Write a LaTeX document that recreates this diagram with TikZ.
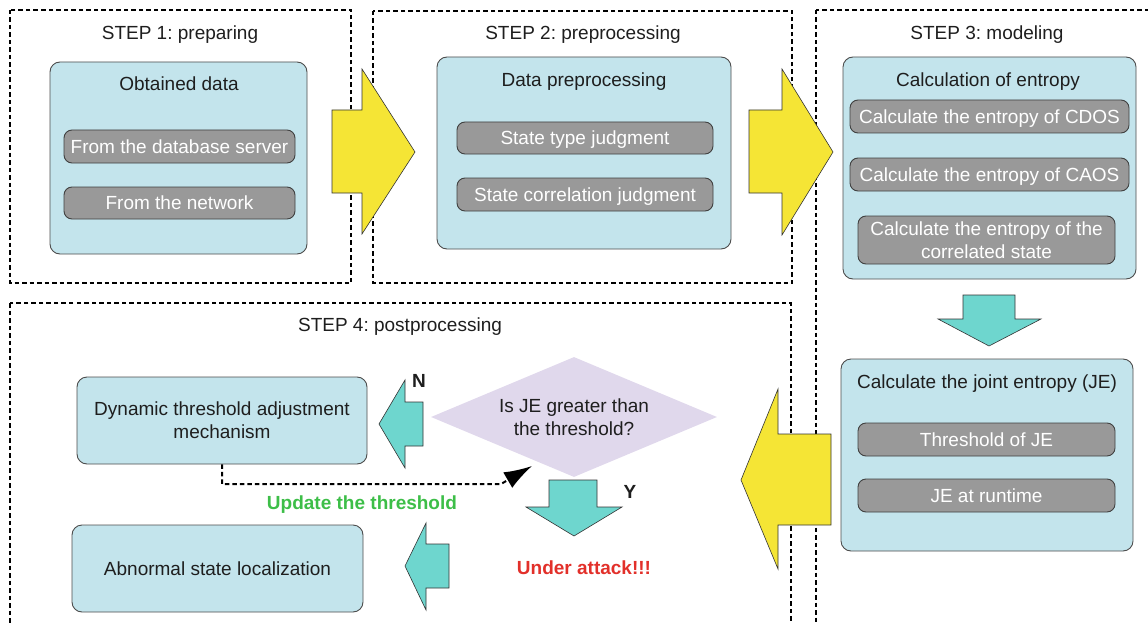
\documentclass[tikz,border=0pt]{standalone}
\usepackage{fontspec}
\setmainfont{Liberation Sans}
\usetikzlibrary{shapes.geometric,arrows.meta}
\definecolor{boxblue}{HTML}{C3E4EC}
\definecolor{boxgray}{HTML}{999999}
\definecolor{ayellow}{HTML}{F5E535}
\definecolor{acyan}{HTML}{6ED6CE}
\definecolor{dlav}{HTML}{E0D8EC}
\definecolor{ugreen}{HTML}{3DBE48}
\definecolor{ared}{HTML}{E2302A}
\definecolor{txt}{HTML}{1E1E1E}
\frenchspacing
\begin{document}
\begin{tikzpicture}[x=1pt,y=-1pt,
  font=\fontsize{19}{23}\selectfont,
  frame/.style={draw=black, line width=2pt, dash pattern=on 4.5pt off 3pt},
  bluebox/.style={draw=black!70, line width=0.9pt, fill=boxblue, rounded corners=10pt, inner sep=0pt},
  graybase/.style={draw=black!75, line width=0.9pt, fill=boxgray, rounded corners=8pt, inner sep=0pt,
    text=white, align=center},
  graybox/.style={graybase, text height=13.6pt, text depth=0pt},
  ttl/.style={text=txt, inner sep=0pt, align=center, text height=13.6pt, text depth=0pt},
  yarrow/.style={draw=black!80, line width=0.6pt, fill=ayellow},
  carrow/.style={draw=black!80, line width=0.6pt, fill=acyan},
  conn/.style={draw=black, line width=2pt, dash pattern=on 4.5pt off 3pt, -{Latex[length=28pt,width=18pt]}},
]
\useasboundingbox (0,0) rectangle (1148,623);
\clip (0,0) rectangle (1148,623);

% dashed step frames
\draw[frame] (10,10) rectangle (351,283);
\draw[frame] (373,11) rectangle (792,283);
\draw[frame] (816,10) rectangle (1165,645);
\draw[frame] (10,303) rectangle (791,645);

% step titles
\node[ttl] (s1) at (180,33) {STEP 1: preparing};
\node[ttl] (s2) at (583,33) {STEP 2: preprocessing};
\node[ttl] (s3) at (987,33) {STEP 3: modeling};
\node[ttl] (s4) at (400,325) {STEP 4: postprocessing};

% blue boxes
\node[bluebox, minimum width=257pt, minimum height=192pt] (obt) at (178.5,158) {};
\node[bluebox, minimum width=294pt, minimum height=192pt] (dpp) at (584,153) {};
\node[bluebox, minimum width=293pt, minimum height=222pt] (cen) at (989.5,168) {};
\node[bluebox, minimum width=292pt, minimum height=192pt] (jen) at (987,455) {};
\node[bluebox, minimum width=290pt, minimum height=87pt, text=txt, align=center] (dyn) at (222,420.5)
  {Dynamic threshold adjustment\\mechanism};
\node[bluebox, minimum width=291pt, minimum height=87pt, text=txt, align=center,
  text height=13.6pt, text depth=0pt] (abn) at (217.5,568.5)
  {Abnormal state localization};

% box titles
\node[ttl] (tobt) at (179,84) {Obtained data};
\node[ttl] (tdpp) at (584,80) {Data preprocessing};
\node[ttl] (tcen) at (988,80) {Calculation of entropy};
\node[ttl] (tjen) at (987,382) {Calculate the joint entropy (JE)};

% gray boxes
\node[graybox, minimum width=231pt, minimum height=33pt] (g1) at (179.5,146.5) {From the database server};
\node[graybox, minimum width=231pt, minimum height=32pt] (g2) at (179.5,203) {From the network};
\node[graybox, minimum width=256pt, minimum height=32pt] (g3) at (585,138) {State type judgment};
\node[graybox, minimum width=256pt, minimum height=33pt] (g4) at (585,194.5) {State correlation judgment};
\node[graybox, minimum width=279pt, minimum height=33pt] (g5) at (989.5,116.5) {Calculate the entropy of CDOS};
\node[graybox, minimum width=279pt, minimum height=33pt] (g6) at (989.5,174.5) {Calculate the entropy of CAOS};
\node[graybase, minimum width=257pt, minimum height=48pt] (g7) at (986.5,240)
  {Calculate the entropy of the\\correlated state};
\node[graybox, minimum width=257pt, minimum height=33pt] (g8) at (986.5,439.5) {Threshold of JE};
\node[graybox, minimum width=257pt, minimum height=33pt] (g9) at (986.5,495.5) {JE at runtime};

% decision
\node[diamond, aspect=2.383, fill=dlav, minimum width=286pt, minimum height=120pt, inner sep=0pt,
  align=center, text=txt] (dec) at (574,417) {Is JE greater than\\the threshold?};

% yellow block arrows
\draw[yarrow] (332,110) -- (362,110) -- (362,69) -- (415,152) -- (362,234) -- (362,193) -- (332,193) -- cycle;
\draw[yarrow] (749,110) -- (782,110) -- (782,69) -- (833,152) -- (782,235) -- (782,193) -- (749,193) -- cycle;
\draw[yarrow] (831,434) -- (778,434) -- (778,389) -- (741,480) -- (778,569) -- (778,525) -- (831,525) -- cycle;

% cyan block arrows
\draw[carrow] (963,295) -- (1015,295) -- (1015,319) -- (1041,319) -- (989,346) -- (938,319) -- (963,319) -- cycle;
\draw[carrow] (423,402) -- (405,402) -- (405,380) -- (379,424) -- (405,468) -- (405,446) -- (423,446) -- cycle;
\draw[carrow] (549,480) -- (597,480) -- (597,507) -- (622,507) -- (574,536) -- (526,507) -- (549,507) -- cycle;
\draw[carrow] (449,544) -- (426,544) -- (426,523) -- (405,566) -- (426,610) -- (426,588) -- (449,588) -- cycle;

% labels
\node[ttl, font=\fontsize{19}{23}\selectfont\bfseries] (nlab) at (419,381) {N};
\node[ttl, font=\fontsize{19}{23}\selectfont\bfseries] (ylab) at (630,492) {Y};
\node[ttl, text=ugreen, font=\fontsize{19}{23}\selectfont\bfseries] (upd) at (362,503) {Update the threshold};
\node[ttl, text=ared, font=\fontsize{19}{23}\selectfont\bfseries] (att) at (584,568) {Under attack!!!};

% dashed feedback connector
\coordinate (bend) at (501,484);
\coordinate (tipu) at (532,466);
\draw[conn] (dyn.south) |- (bend) -- (tipu);
\end{tikzpicture}
\end{document}
